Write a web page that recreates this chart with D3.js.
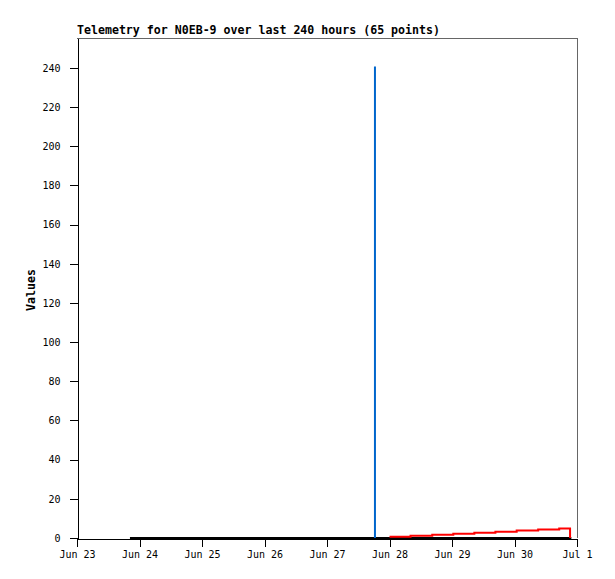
<!DOCTYPE html>
<html>
<head>
<meta charset="utf-8">
<script src="https://cdn.jsdelivr.net/npm/d3@7"></script>
<style>
  html, body { margin: 0; padding: 0; background: #fff; }
  svg { display: block; }
  .tick text { font-family: "DejaVu Sans Mono", "Liberation Mono", monospace; font-size: 10px; fill: #000; }
</style>
</head>
<body>
<script>
// ---- data ----
const title = "Telemetry for N0EB-9 over last 240 hours (65 points)";
const yLabel = "Values";
const xDomain = ["2024-06-23T00:00", "2024-07-01T00:00"];
const yMax = 255.3;
const yTicks = [0, 20, 40, 60, 80, 100, 120, 140, 160, 180, 200, 220, 240];

const blackTimes = ["2024-06-23T20:20", "2024-06-25T12:00", "2024-06-27T00:00", "2024-06-28T12:00", "2024-06-30T21:50"];
const blackValues = [0, 0, 0, 0, 0];

const blueTimes = ["2024-06-27T18:25", "2024-06-27T18:25"];
const blueValues = [0, 240.8];

const redTimes = ["2024-06-28T00:00", "2024-06-28T08:05", "2024-06-28T16:25", "2024-06-29T00:30",
                  "2024-06-29T08:35", "2024-06-29T16:40", "2024-06-30T00:50", "2024-06-30T09:05",
                  "2024-06-30T17:10", "2024-06-30T21:20"];
const redValues = [0.7, 1.2, 1.7, 2.2, 2.7, 3.2, 3.8, 4.3, 4.9, 0];

// ---- chart ----
const W = 615, H = 579;
const m = { left: 77, right: 38, top: 38, bottom: 41 };
const parse = d3.utcParse("%Y-%m-%dT%H:%M");

const x = d3.scaleUtc().domain(xDomain.map(parse)).range([m.left, W - m.right]);
const y = d3.scaleLinear().domain([0, yMax]).range([H - m.bottom, m.top]);

const svg = d3.select("body").append("svg").attr("width", W).attr("height", H);

// frame (top & right)
svg.append("path")
  .attr("d", `M${m.left},${m.top + 0.5}H${W - m.right + 0.5}V${H - m.bottom}`)
  .attr("fill", "none").attr("stroke", "#666").attr("stroke-width", 1)
  .attr("shape-rendering", "crispEdges");

// axes
const xAxis = d3.axisBottom(x)
  .ticks(d3.utcDay.every(1))
  .tickFormat(d3.utcFormat("%b %-d"))
  .tickSize(8).tickSizeOuter(0).tickPadding(4);
const gx = svg.append("g").attr("transform", `translate(0,${H - m.bottom + 0.5})`).call(xAxis);

const yAxis = d3.axisLeft(y).tickValues(yTicks).tickSize(8).tickSizeOuter(0).tickPadding(9);
const gy = svg.append("g").attr("transform", `translate(${m.left + 0.5},0)`).call(yAxis);

[gx, gy].forEach(g => {
  g.selectAll("path, line").attr("stroke", "#000").attr("shape-rendering", "crispEdges");
});

// series
function series(times, values) {
  return times.map((t, i) => ({ t: parse(t), v: values[i] }));
}
const lineLinear = d3.line().x(d => x(d.t)).y(d => y(d.v));
const lineStep = d3.line().x(d => x(d.t)).y(d => y(d.v)).curve(d3.curveStepAfter);

svg.append("path").datum(series(blackTimes, blackValues))
  .attr("d", lineLinear).attr("fill", "none").attr("stroke", "#000").attr("stroke-width", 2);

svg.append("path").datum(series(blueTimes, blueValues))
  .attr("d", lineLinear).attr("fill", "none").attr("stroke", "#0066cc").attr("stroke-width", 2);

svg.append("path").datum(series(redTimes, redValues))
  .attr("d", lineStep).attr("fill", "none").attr("stroke", "#ff0000").attr("stroke-width", 2);

// title
svg.append("text")
  .attr("x", m.left).attr("y", 34)
  .attr("font-family", "'DejaVu Sans Mono', 'Liberation Mono', monospace")
  .attr("font-weight", "bold").attr("font-size", 11.6)
  .attr("fill", "#000")
  .text(title);

// y label
svg.append("text")
  .attr("transform", `translate(35,${(m.top + H - m.bottom) / 2 + 2}) rotate(-90)`)
  .attr("text-anchor", "middle")
  .attr("font-family", "'DejaVu Sans Mono', 'Liberation Mono', monospace")
  .attr("font-weight", "bold").attr("font-size", 11.6)
  .attr("fill", "#000")
  .text(yLabel);
</script>
</body>
</html>
